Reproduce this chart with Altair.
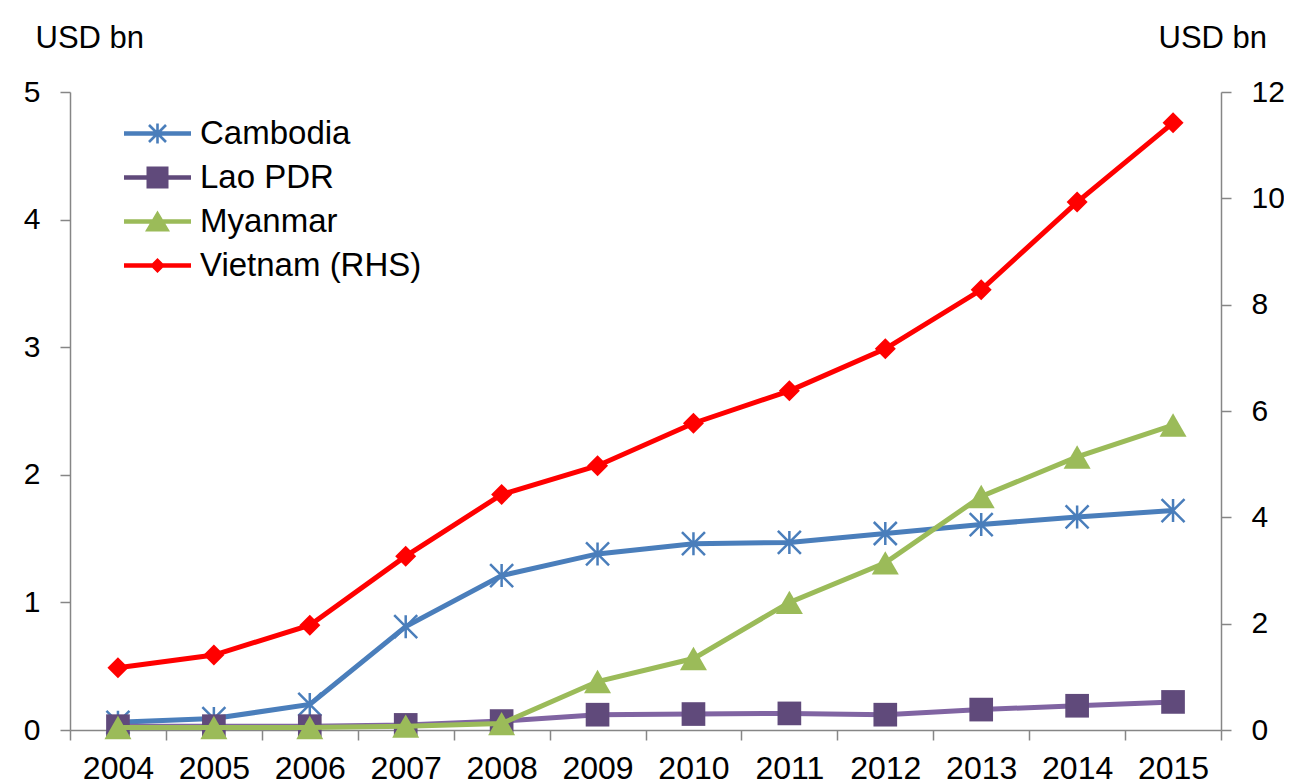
import altair as alt
import pandas as pd

years = [str(y) for y in range(2004, 2016)]
countries = ["Cambodia", "Lao PDR", "Myanmar", "Vietnam (RHS)"]
cambodia = [0.06, 0.09, 0.20, 0.81, 1.21, 1.38, 1.46, 1.47, 1.54, 1.61, 1.67, 1.72]
lao = [0.03, 0.03, 0.03, 0.04, 0.07, 0.12, 0.125, 0.13, 0.12, 0.16, 0.19, 0.22]
myanmar = [0.02, 0.02, 0.02, 0.03, 0.05, 0.38, 0.56, 1.00, 1.31, 1.83, 2.14, 2.39]
vietnam = [1.17, 1.41, 1.97, 3.27, 4.43, 4.97, 5.77, 6.38, 7.17, 8.28, 9.93, 11.42]
left_ticks = [0, 1, 2, 3, 4, 5]
right_ticks = [0, 2, 4, 6, 8, 10, 12]

line_colors = ["#4a7ebb", "#8064a2", "#9bbb59", "#ff0000"]
marker_colors = ["#4a7ebb", "#604a7b", "#9bbb59", "#ff0000"]

series = {"Cambodia": cambodia, "Lao PDR": lao, "Myanmar": myanmar, "Vietnam (RHS)": vietnam}
rows = []
for c, vals in series.items():
    for y, v in zip(years, vals):
        rows.append({"year": y, "country": c, "value": v})
df = pd.DataFrame(rows)

FONT = "Liberation Sans"
GRAY = "#868686"

# legend symbol paths (filled shapes: line bar + marker)
bar = "M-3.35,-0.22L3.35,-0.22L3.35,0.22L-3.35,0.22Z"
star = ("M0.13,-1L0.13,1L-0.13,1L-0.13,-1Z"
        "M-0.758,-0.942L0.942,0.758L0.758,0.942L-0.942,-0.758Z"
        "M-0.942,0.758L0.758,-0.942L0.942,-0.758L-0.758,0.942Z")
square = "M-1.1,-1.1L1.1,-1.1L1.1,1.1L-1.1,1.1Z"
tri = "M0,-1.1L1.25,1.0L-1.25,1.0Z"
diamond = "M0,-0.75L0.75,0L0,0.75L-0.75,0Z"
legend_shapes = [bar + star, bar + square, bar + tri, bar + diamond]

xscale = alt.Scale(type="band", paddingInner=0, paddingOuter=0)
xaxis = alt.Axis(labelAngle=0, tickBand="extent", tickSize=10, labelPadding=13,
                 labelFontSize=32, labelFont=FONT, labelColor="black",
                 domainColor=GRAY, tickColor=GRAY, domainWidth=1.5, tickWidth=1.5,
                 grid=False, title=None)


def xenc():
    return alt.X("year:O", bandPosition=0.5, scale=xscale, axis=xaxis, sort=years)


left_axis = alt.Axis(values=left_ticks, tickSize=10, labelPadding=20, labelFontSize=30,
                     labelFont=FONT, labelColor="black", domainColor=GRAY, tickColor=GRAY,
                     domainWidth=1.5, tickWidth=1.5, grid=False, title="USD bn",
                     titleAngle=0, titleAlign="left", titleBaseline="alphabetic",
                     titleX=-35, titleY=-45, titleFont=FONT, titleFontSize=31,
                     titleFontWeight="normal", titleColor="black")
right_axis = alt.Axis(orient="right", values=right_ticks, tickSize=10, labelPadding=20,
                      labelFontSize=30, labelFont=FONT, labelColor="black",
                      domainColor=GRAY, tickColor=GRAY, domainWidth=1.5, tickWidth=1.5,
                      grid=False, title="USD bn", titleAngle=0, titleAlign="left",
                      titleBaseline="alphabetic", titleX=-63, titleY=-45, titleFont=FONT,
                      titleFontSize=31, titleFontWeight="normal", titleColor="black")


def yleft():
    return alt.Y("value:Q", scale=alt.Scale(domain=[0, 5], nice=False), axis=left_axis)


def yright():
    return alt.Y("value:Q", scale=alt.Scale(domain=[0, 12], nice=False), axis=right_axis)


base = alt.Chart(df)

cam_star = "M-1,-1L1,1M-1,1L1,-1M0,-1L0,1"


def series_layers(name, idx, yfn, shape, size, filled, sw=2.5):
    d = base.transform_filter(alt.datum.country == name)
    line = d.mark_line(color=line_colors[idx], strokeWidth=5).encode(x=xenc(), y=yfn())
    if filled:
        pts = d.mark_point(shape=shape, size=size, filled=True, opacity=1,
                           color=marker_colors[idx]).encode(x=xenc(), y=yfn())
    else:
        pts = d.mark_point(shape=shape, size=size, filled=False, opacity=1,
                           color=marker_colors[idx], strokeWidth=sw).encode(x=xenc(), y=yfn())
    return [line, pts]


legend_cfg = dict(orient="none", legendX=71, legendY=25, title=None,
                  labelFont=FONT, labelFontSize=33, labelColor="black", symbolSize=400,
                  labelOffset=26, rowPadding=10, padding=0, symbolStrokeWidth=0,
                  labelLimit=400)

legend_layer = base.transform_filter("false").mark_point(filled=True, opacity=1).encode(
    x=xenc(), y=yleft(),
    color=alt.Color("country:N", scale=alt.Scale(domain=countries, range=marker_colors),
                    legend=alt.Legend(**legend_cfg)),
    shape=alt.Shape("country:N", scale=alt.Scale(domain=countries, range=legend_shapes),
                    legend=alt.Legend(**legend_cfg)),
)

left_layers = (
    series_layers("Cambodia", 0, yleft, cam_star, 529, False)
    + series_layers("Lao PDR", 1, yleft, "square", 560, True)
    + series_layers("Myanmar", 2, yleft, "triangle-up", 729, True)
    + [legend_layer]
)
left = alt.layer(*left_layers)
right = alt.layer(*series_layers("Vietnam (RHS)", 3, yright, "diamond", 441, True))

chart = alt.layer(left, right).resolve_scale(y="independent").properties(
    width=1151, height=638,
    background="white",
    autosize=alt.AutoSizeParams(type="none"),
    padding={"left": 62, "top": 84, "right": 63, "bottom": 53},
).configure_view(stroke=None)

chart.save("out.html", embed_options={"renderer": "svg", "actions": False})
